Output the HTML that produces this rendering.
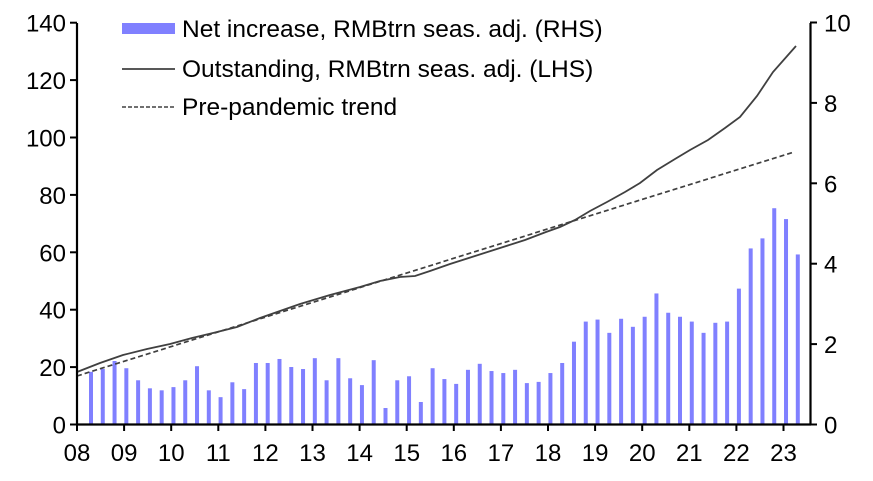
<!DOCTYPE html>
<html><head><meta charset="utf-8"><style>
html,body{margin:0;padding:0;background:#fff;}
svg{display:block;font-family:"Liberation Sans",Arial,sans-serif;}
</style></head><body>
<svg width="873" height="481" viewBox="0 0 873 481" xmlns="http://www.w3.org/2000/svg">
<g id="bars" fill="#8080ff"></g>
<polyline fill="none" stroke="#404040" stroke-width="1.7" stroke-dasharray="5,3" points="77,376 794,152"/>
<polyline fill="none" stroke="#404040" stroke-width="1.8" points="77,372 100,363 123,355 147,349 170,344 192,338 213,333 237,327 260,318 280,311 300,304 330,295 360,287 380,281 400,277 415,276 430,271 450,264 475,256 500,248 525,240 546,232 560,227 575,220 590,211 607,202 625,192 640,183 657,170 675,159 690,150 708,140 725,128 740,117 757,96 773,72 796,46"/>
<g stroke="#000" stroke-width="2.2" fill="none">
<line x1="77" y1="23" x2="77" y2="425"/>
<line x1="810.5" y1="23" x2="810.5" y2="425"/>
<line x1="76" y1="424.5" x2="811" y2="424.5"/>
</g>
<g id="ticks" stroke="#000" stroke-width="2"></g>
<g id="labels" font-size="24" fill="#000"></g>
<g font-size="24.5" fill="#000">
<rect x="122" y="23" width="53" height="11" fill="#8080ff"/>
<text x="182" y="37">Net increase, RMBtrn seas. adj. (RHS)</text>
<line x1="122" y1="69" x2="175" y2="69" stroke="#404040" stroke-width="1.8"/>
<text x="182" y="77">Outstanding, RMBtrn seas. adj. (LHS)</text>
<line x1="122" y1="107" x2="175" y2="107" stroke="#404040" stroke-width="1.6" stroke-dasharray="4,2"/>
<text x="182" y="115">Pre-pandemic trend</text>
</g>
</svg>
<script>
var v=[1.31,1.38,1.58,1.40,1.10,0.90,0.85,0.93,1.10,1.45,0.85,0.68,1.05,0.88,1.53,1.53,1.63,1.43,1.38,1.65,1.10,1.65,1.15,0.98,1.60,0.41,1.10,1.20,0.56,1.40,
1.13,1.01,1.36,1.51,1.33,1.28,1.36,1.03,1.06,1.28,1.53,2.06,2.56,2.61,2.28,2.63,2.43,2.68,3.26,2.78,2.68,2.56,2.28,2.53,2.56,3.38,4.38,4.63,5.38,5.11,4.23];
var ns="http://www.w3.org/2000/svg",b=document.getElementById("bars");
v.forEach(function(h,i){var r=document.createElementNS(ns,"rect");var x=91+11.78*i;var hh=h*40.2;
r.setAttribute("x",x-2);r.setAttribute("width",4);r.setAttribute("y",424.5-hh);r.setAttribute("height",hh);b.appendChild(r);});
var t=document.getElementById("ticks"),l=document.getElementById("labels");
function ln(a,b2,c,d){var e=document.createElementNS(ns,"line");e.setAttribute("x1",a);e.setAttribute("y1",b2);e.setAttribute("x2",c);e.setAttribute("y2",d);t.appendChild(e);}
function tx(x,y,s,anc){var e=document.createElementNS(ns,"text");e.setAttribute("x",x);e.setAttribute("y",y);e.setAttribute("text-anchor",anc);e.textContent=s;l.appendChild(e);}
for(var k=0;k<=7;k++){var y=424.5-k*57.4;ln(70,y,77,y);tx(66,y+9,String(k*20),"end");}
for(var k=0;k<=5;k++){var y=424.5-k*80.4;ln(810,y,817,y);tx(824,y+9,String(k*2),"start");}
for(var k=0;k<=15;k++){var x=77+k*47.1;ln(x,424,x,431);var s=String(8+k);if(s.length<2)s="0"+s;tx(x,461,s,"middle");}
</script>
</body></html>
